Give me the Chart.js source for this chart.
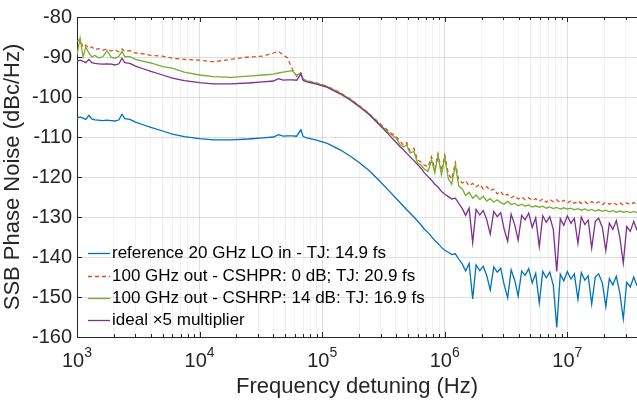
<!DOCTYPE html>
<html>
<head>
<meta charset="utf-8">
<script src="https://cdn.jsdelivr.net/npm/chart.js@4.4.0/dist/chart.umd.min.js"></script>
<style>
	html, body { margin:0; padding:0; background:#fff; }
	canvas { display:block; }
</style>
</head>
<body>
<canvas id="chart-section" width="637" height="405"></canvas>
<script>

// offset frequency (Hz), shared by all four traces
var freqHz = [1000, 1060, 1120, 1180, 1250, 1320, 1400, 1500, 1620, 1760,
	1900, 2050, 2200, 2330, 2450, 2700, 3000, 3500, 4000, 5000,
	6000, 7500, 1e4, 1.3e4, 1.8e4, 2.5e4, 3.3e4, 4.0e4, 4.4e4, 4.8e4,
	5.2e4, 5.7e4, 6.2e4, 6.7e4, 7.0e4, 7.5e4, 9.0e4, 1.1e5, 1.4e5, 1.7e5,
	2.0e5, 2.4e5, 2.9e5, 3.5e5, 4.0e5,
	4.3e5, 4.6e5, 4.9e5, 5.2e5, 5.6e5, 6.0e5, 6.4e5, 6.8e5, 7.3e5, 7.8e5,
	8.3e5, 8.8e5, 9.4e5,
	1.0e6, 1.07e6, 1.14e6, 1.22e6, 1.3e6, 1.39e6, 1.48e6, 1.58e6, 1.69e6, 1.8e6,
	1.93e6, 2.06e6, 2.2e6, 2.35e6, 2.51e6, 2.68e6, 2.86e6, 3.05e6, 3.26e6, 3.48e6,
	3.72e6, 3.97e6, 4.24e6, 4.53e6, 4.84e6, 5.17e6, 5.52e6, 5.9e6, 6.3e6, 6.73e6,
	7.19e6, 7.68e6, 8.2e6, 8.76e6, 9.35e6, 1e7, 1.07e7, 1.14e7, 1.22e7, 1.3e7,
	1.39e7, 1.48e7, 1.58e7, 1.69e7, 1.8e7, 1.93e7, 2.06e7, 2.2e7, 2.35e7, 2.51e7,
	2.68e7, 2.86e7, 3.05e7, 3.26e7, 3.48e7, 3.7e7];

// reference 20 GHz LO in (dBc/Hz)
var refLO = [-105.2, -105.0, -105.3, -105.6, -104.6, -105.5, -105.7, -105.8, -105.9, -105.8,
	-105.9, -106.0, -105.7, -104.3, -105.4, -105.6, -106.3, -107.0, -107.6, -108.5,
	-109.3, -109.9, -110.4, -110.7, -110.7, -110.5, -110.2, -110.0, -109.4, -109.8,
	-109.7, -109.7, -109.8, -108.2, -109.9, -110.2, -110.8, -111.6, -113.2, -114.8,
	-116.4, -118.3, -120.8, -123.4, -125.3,
	-126.3, -127.3, -128.2, -129.0, -130.0, -131.0, -132.0, -133.0, -133.9, -134.9,
	-135.9, -136.6, -137.6,
	-138.3, -138.8, -139.4, -139.2, -140.5, -141.8, -143.5, -141.6, -150.5, -142.0,
	-143.4, -142.3, -144.6, -148.3, -142.5, -143.8, -142.8, -146.9, -150.2, -143.2,
	-145.8, -149.8, -143.5, -144.6, -142.9, -146.5, -144.1, -151.5, -143.6, -145.2,
	-143.8, -147.0, -157.6, -144.3, -146.0, -143.6, -145.5, -144.2, -150.6, -143.9,
	-145.8, -144.7, -151.8, -145.0, -144.2, -146.5, -152.4, -145.4, -147.0, -144.8,
	-149.0, -155.5, -146.3, -147.5, -145.0, -147.2];

// 100 GHz out, CSHPR 0 dB
var outCSHPR = [-86.0, -85.6, -87.5, -87.0, -87.8, -87.5, -88.2, -87.9, -88.3, -88.0,
	-88.5, -88.2, -88.7, -88.0, -88.6, -88.4, -89.0, -89.2, -89.6, -89.8,
	-90.3, -90.6, -90.8, -91.2, -90.6, -90.0, -89.8, -89.0, -88.6, -89.5,
	-90.2, -93.0, -94.8, -94.0, -95.6, -95.9, -96.5, -97.3, -98.9, -100.5,
	-102.1, -104.0, -106.4, -108.6, -109.8,
	-111.0, -112.0, -111.4, -113.5, -112.8, -115.8, -116.2, -117.0, -117.5, -115.0,
	-118.0, -114.2, -118.5,
	-114.5, -119.2, -120.5, -116.4, -120.8, -121.5, -121.0, -122.2, -121.6, -122.5,
	-121.8, -123.0, -122.4, -123.4, -123.0, -124.2, -123.6, -124.8, -124.3, -125.2,
	-124.7, -125.5, -125.0, -125.7, -125.2, -125.9, -125.4, -126.1, -125.5, -126.3,
	-125.6, -126.2, -125.7, -126.4, -125.8, -126.5, -125.9, -126.6, -126.0, -126.6,
	-126.1, -126.8, -126.2, -126.7, -126.2, -126.9, -126.3, -126.8, -126.3, -126.9,
	-126.4, -127.0, -126.5, -126.9, -126.4, -126.8];

// 100 GHz out, CSHRP 14 dB
var outCSHRP = [-89.5, -85.3, -90.0, -87.5, -89.0, -90.0, -89.6, -90.2, -90.0, -88.4,
	-90.1, -90.3, -89.8, -88.6, -89.9, -89.9, -90.6, -91.1, -91.5, -92.4,
	-92.8, -93.8, -94.5, -94.9, -95.1, -94.8, -94.5, -94.3, -94.0, -93.8,
	-93.6, -93.4, -94.6, -94.0, -95.6, -96.0, -96.6, -97.4, -99.0, -100.6,
	-102.2, -104.1, -106.6, -109.0, -110.2,
	-111.8, -112.5, -112.0, -114.0, -113.6, -116.5, -117.0, -118.0, -118.6, -115.8,
	-119.0, -114.6, -119.5,
	-115.0, -120.5, -121.8, -117.0, -122.3, -123.0, -124.6, -123.8, -125.3, -124.5,
	-125.6, -124.8, -126.0, -125.4, -126.3, -125.7, -126.4, -126.8, -126.1, -126.9,
	-126.6, -127.2, -126.8, -127.3, -127.0, -127.5, -127.2, -127.6, -127.3, -127.8,
	-127.5, -127.9, -127.6, -128.0, -127.7, -128.0, -127.8, -128.2, -127.9, -128.3,
	-128.0, -128.4, -128.1, -128.5, -128.2, -128.6, -128.3, -128.7, -128.4, -128.8,
	-128.5, -128.8, -128.6, -128.9, -128.6, -128.9];

// ideal x5 multiplier
var idealX5 = [-91.0, -90.8, -91.1, -91.4, -90.6, -91.4, -91.6, -91.7, -91.8, -91.7,
	-91.8, -92.0, -91.7, -90.3, -91.4, -91.6, -92.3, -93.0, -93.6, -94.5,
	-95.3, -95.9, -96.4, -96.7, -96.7, -96.5, -96.2, -96.0, -95.4, -95.8,
	-95.7, -95.7, -95.8, -94.2, -95.9, -96.2, -96.8, -97.6, -99.2, -100.8,
	-102.4, -104.3, -106.8, -109.4, -111.3,
	-112.4, -113.2, -114.1, -114.9, -115.9, -116.9, -117.8, -118.9, -119.9, -120.8,
	-121.8, -122.5, -123.6,
	-124.3, -124.9, -125.5, -125.3, -126.6, -127.9, -129.6, -127.8, -136.4, -128.1,
	-129.5, -128.4, -130.7, -134.3, -128.6, -129.9, -128.9, -133.0, -136.1, -129.3,
	-131.9, -135.8, -129.6, -130.7, -129.0, -132.6, -130.2, -137.4, -129.7, -131.3,
	-129.9, -133.1, -143.6, -130.4, -132.1, -129.7, -131.6, -130.3, -136.6, -130.0,
	-131.9, -130.8, -137.8, -131.1, -130.3, -132.6, -138.4, -131.5, -133.1, -130.9,
	-135.1, -141.5, -132.4, -133.6, -131.1, -133.3];

var seriesNames = ["reference 20 GHz LO in - TJ: 14.9 fs",
	"100 GHz out - CSHPR: 0 dB; TJ: 20.9 fs",
	"100 GHz out - CSHRP: 14 dB: TJ: 16.9 fs",
	"ideal \u00d75 multiplier"];
var seriesColors = ["#0072BD", "#D95319", "#77AC30", "#7E2F8E"];

var xDecades = [1e3, 1e4, 1e5, 1e6, 1e7];
var xExponents = ["3", "4", "5", "6", "7"];
var yTicks = [-160, -150, -140, -130, -120, -110, -100, -90, -80];

var FONT = "'Liberation Sans', Arial, Helvetica, sans-serif";
var INK = "#262626";

// grid positions 1..9 x each decade, up to the axis end
var xGridTicks = [];
xDecades.forEach(function(d){
	for (var k = 1; k <= 9; k++) {
		if (d * k <= 3.7e7) xGridTicks.push(d * k);
	}
});
function isDecade(v){
	return xDecades.indexOf(v) >= 0;
}

function toPoints(arr){
	return freqHz.map(function(f, i){ return {x: f, y: arr[i]}; });
}

var traces = [refLO, outCSHPR, outCSHRP, idealX5];
var datasets = traces.map(function(arr, i){
	return {
		label: seriesNames[i],
		data: toPoints(arr),
		borderColor: seriesColors[i],
		backgroundColor: seriesColors[i],
		borderWidth: 1.3,
		borderDash: i === 1 ? [4, 3] : [],
		pointRadius: 0,
		tension: 0,
		fill: false,
		order: 4 - i
	};
});

var decor = {
	id: "decor",
	afterDatasetsDraw: function(chart){
		var c = chart.ctx, a = chart.chartArea, xs = chart.scales.x, ys = chart.scales.y;
		c.save();
		c.strokeStyle = INK;
		c.lineWidth = 1;
		c.beginPath();
		c.moveTo(a.left, a.top + 0.5);
		c.lineTo(a.right, a.top + 0.5);
		xGridTicks.forEach(function(v){
			var px = Math.round(xs.getPixelForValue(v)) + 0.5;
			var len = isDecade(v) ? 5 : 3;
			c.moveTo(px, a.bottom);
			c.lineTo(px, a.bottom - len);
			c.moveTo(px, a.top);
			c.lineTo(px, a.top + len);
		});
		yTicks.forEach(function(v){
			var py = Math.round(ys.getPixelForValue(v)) + 0.5;
			c.moveTo(a.left, py);
			c.lineTo(a.left + 5, py);
		});
		c.stroke();
		c.restore();
	},
	afterDraw: function(chart){
		var c = chart.ctx, a = chart.chartArea, xs = chart.scales.x;
		c.save();
		// x tick labels 10^n
		c.fillStyle = INK;
		c.textBaseline = "alphabetic";
		xDecades.forEach(function(v, i){
			var px = xs.getPixelForValue(v);
			c.font = "20px " + FONT;
			var wb = c.measureText("10").width;
			c.font = "14px " + FONT;
			var we = c.measureText(xExponents[i]).width;
			var x0 = px - (wb + we) / 2;
			c.font = "20px " + FONT;
			c.textAlign = "left";
			c.fillText("10", x0, 367);
			c.font = "14px " + FONT;
			c.fillText(xExponents[i], x0 + wb, 357);
		});
		// legend inside the axes, lower left
		var rows = [253, 276, 298, 320];
		c.font = "17px " + FONT;
		c.textBaseline = "middle";
		c.textAlign = "left";
		chart.data.datasets.forEach(function(ds, i){
			var y = rows[i];
			c.beginPath();
			c.strokeStyle = ds.borderColor;
			c.lineWidth = 1.3;
			c.setLineDash(ds.borderDash || []);
			c.moveTo(88, y + 0.5);
			c.lineTo(110, y + 0.5);
			c.stroke();
			c.setLineDash([]);
			c.fillStyle = "#000";
			c.fillText(ds.label, 112, y);
		});
		c.restore();
	}
};

var canvas = document.getElementById("chart-section").getContext("2d");
window.phase = new Chart(canvas, {
	type: "line",
	data: { datasets: datasets },
	options: {
		responsive: false,
		animation: false,
		layout: { padding: { top: 14, right: 0, bottom: 0, left: 0 } },
		plugins: {
			legend: { display: false },
			tooltip: { enabled: false }
		},
		scales: {
			x: {
				type: "logarithmic",
				min: 1000,
				max: 3.7e7,
				afterBuildTicks: function(scale){
					scale.ticks = xGridTicks.map(function(v){ return {value: v}; });
				},
				afterFit: function(scale){ scale.height = 68; },
				ticks: { display: false },
				grid: {
					drawTicks: false,
					color: function(ctx){
						return ctx.tick && isDecade(ctx.tick.value) ? "rgba(0,0,0,0.13)" : "rgba(0,0,0,0.05)";
					}
				},
				border: { display: true, color: INK, width: 1 },
				title: {
					display: true,
					text: "Frequency detuning (Hz)",
					color: INK,
					font: { family: FONT, size: 22 },
					padding: { top: 0, bottom: 5 }
				}
			},
			y: {
				min: -160,
				max: -80,
				afterBuildTicks: function(scale){
					scale.ticks = yTicks.map(function(v){ return {value: v}; });
				},
				afterFit: function(scale){ scale.width = 77; },
				ticks: {
					color: INK,
					padding: 5,
					font: { family: FONT, size: 20 }
				},
				grid: { drawTicks: false, color: "rgba(0,0,0,0.13)" },
				border: { display: true, color: INK, width: 1 },
				title: {
					display: true,
					text: "SSB Phase Noise (dBc/Hz)",
					color: INK,
					font: { family: FONT, size: 22 },
					padding: { top: 0, bottom: 4 }
				}
			}
		}
	},
	plugins: [decor]
});

</script>
</body>
</html>
